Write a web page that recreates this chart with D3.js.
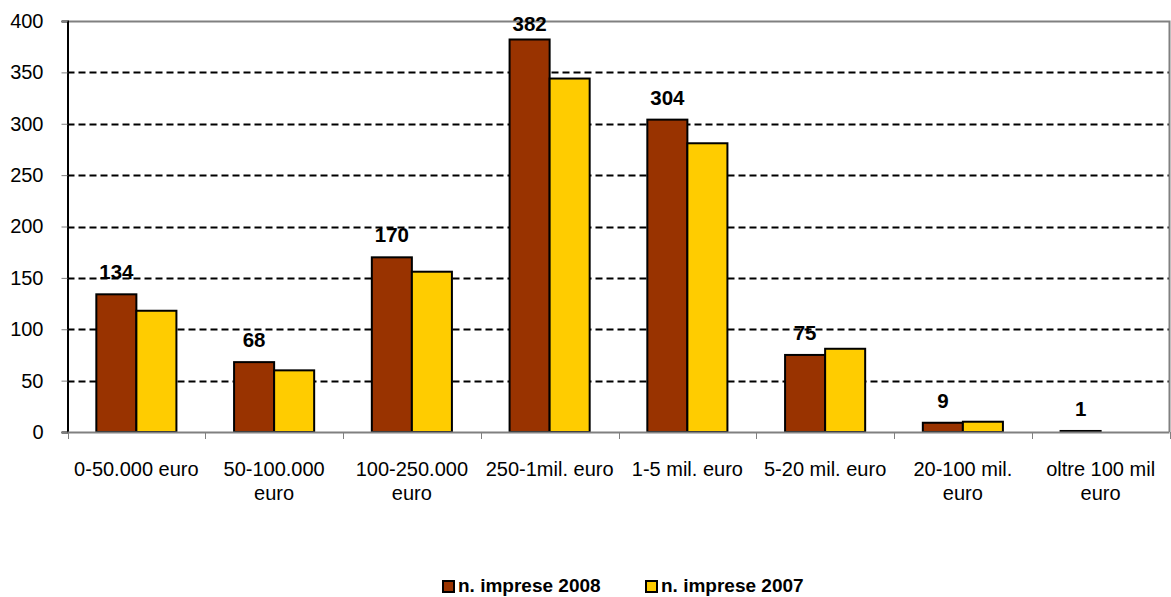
<!DOCTYPE html>
<html>
<head>
<meta charset="utf-8">
<script src="https://cdn.jsdelivr.net/npm/d3@7"></script>
<style>
  html, body { margin: 0; padding: 0; background: #fff; }
  svg { display: block; font-family: "Liberation Sans", Arial, sans-serif; }
</style>
</head>
<body>
<svg id="chart" width="1171" height="597"></svg>
<script>
// Fasce di fatturato and number of firms per year
const categories = [
  ["0-50.000 euro"],
  ["50-100.000", "euro"],
  ["100-250.000", "euro"],
  ["250-1mil. euro"],
  ["1-5 mil. euro"],
  ["5-20 mil. euro"],
  ["20-100 mil.", "euro"],
  ["oltre 100 mil", "euro"]
];
const imprese2008 = [134, 68, 170, 382, 304, 75, 9, 1];
const imprese2007 = [118, 60, 156, 344, 281, 81, 10, 0];
const seriesNames = ["n. imprese 2008", "n. imprese 2007"];
const yTicks = [0, 50, 100, 150, 200, 250, 300, 350, 400];

const colors = ["#993300", "#FFCC00"];
const FONT = "'Liberation Sans', Arial, sans-serif";

const svg = d3.select("#chart");
const plotLeft = 67.5, plotRight = 1169.5, plotTop = 21, plotBottom = 432;

const x = d3.scaleBand().domain(d3.range(categories.length)).range([plotLeft, plotRight]);
const xs = d3.scaleBand().domain([0, 1]).range([0, x.bandwidth()]).paddingInner(0).paddingOuter(0.72);
const y = d3.scaleLinear().domain([0, 400]).range([plotBottom, plotTop]);

// Dashed horizontal gridlines
svg.append("g")
  .selectAll("line")
  .data(yTicks.filter(d => d > 0 && d < 400))
  .join("line")
  .attr("x1", plotLeft).attr("x2", plotRight)
  .attr("y1", d => Math.round(y(d)) + 0.5).attr("y2", d => Math.round(y(d)) + 0.5)
  .attr("stroke", "#000").attr("stroke-width", 2).attr("stroke-dasharray", "7,4");

// Plot frame (top and right in grey)
svg.append("path")
  .attr("d", `M${plotLeft},${plotTop + 0.5}H${plotRight}V${plotBottom}`)
  .attr("fill", "none").attr("stroke", "#808080").attr("stroke-width", 2);

// Bars
const series = [imprese2008, imprese2007];
series.forEach((vals, s) => {
  svg.append("g").selectAll("rect")
    .data(vals)
    .join("rect")
    .filter(d => d > 0)
    .attr("x", (d, i) => x(i) + xs(s))
    .attr("width", xs.bandwidth())
    .attr("y", d => y(d))
    .attr("height", d => y(0) - y(d))
    .attr("fill", colors[s])
    .attr("stroke", "#000").attr("stroke-width", 2);
});

// Value labels above 2008 bars (kept below the chart's top edge)
svg.append("g").selectAll("text")
  .data(imprese2008)
  .join("text")
  .attr("x", (d, i) => x(i) + xs(0) + xs.bandwidth() / 2)
  .attr("y", d => Math.max(y(d) - 15, 31))
  .attr("text-anchor", "middle")
  .attr("font-family", FONT)
  .attr("font-weight", "bold").attr("font-size", 20.5)
  .text(d => d);

// Y axis
const yAxis = svg.append("g")
  .attr("transform", `translate(${plotLeft},0)`)
  .call(d3.axisLeft(y).tickValues(yTicks).tickSize(6).tickPadding(18));
yAxis.select(".domain").attr("stroke", "#000").attr("stroke-width", 2);
yAxis.selectAll(".tick line").attr("stroke", "#808080");
yAxis.selectAll("text").attr("font-size", 20).attr("font-family", FONT).attr("fill", "#000");

// X axis baseline and ticks
const xAxis = svg.append("g")
  .attr("transform", `translate(0,${plotBottom})`);
xAxis.append("line").attr("x1", plotLeft).attr("x2", plotRight).attr("y1", 0.5).attr("y2", 0.5)
  .attr("stroke", "#808080").attr("stroke-width", 2);
xAxis.selectAll("line.tk")
  .data(d3.range(categories.length + 1))
  .join("line").attr("class", "tk")
  .attr("x1", i => Math.round(plotLeft + i * x.step()) + 0.5)
  .attr("x2", i => Math.round(plotLeft + i * x.step()) + 0.5)
  .attr("y1", 0).attr("y2", 7)
  .attr("stroke", "#808080");

const xl = svg.append("g").selectAll("text")
  .data(categories)
  .join("text")
  .attr("x", (d, i) => x(i) + x.bandwidth() / 2)
  .attr("y", 476)
  .attr("text-anchor", "middle")
  .attr("font-family", FONT)
  .attr("font-size", 20);
xl.selectAll("tspan")
  .data(d => d)
  .join("tspan")
  .attr("x", function() { return d3.select(this.parentNode).attr("x"); })
  .attr("dy", (d, j) => j === 0 ? 0 : 24)
  .text(d => d);

// Legend
const legend = svg.append("g");
const lx = [443, 646];
seriesNames.forEach((name, s) => {
  legend.append("rect")
    .attr("x", lx[s]).attr("y", 581)
    .attr("width", 11).attr("height", 11)
    .attr("fill", colors[s]).attr("stroke", "#000").attr("stroke-width", 2);
  legend.append("text")
    .attr("x", lx[s] + 15).attr("y", 592)
    .attr("font-family", FONT)
    .attr("font-weight", "bold").attr("font-size", 19)
    .text(name);
});
</script>
</body>
</html>
